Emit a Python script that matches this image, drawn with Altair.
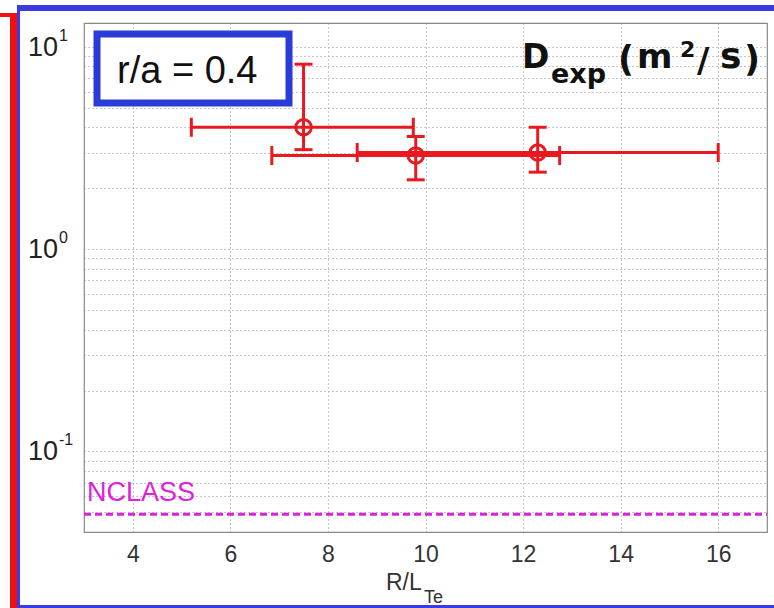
import altair as alt
import pandas as pd

# ---- data ----
x_center = [7.5, 9.8, 12.3]
y_center = [4.0, 2.9, 3.0]
x_low = [5.2, 6.85, 8.6]
x_high = [9.75, 12.75, 16.0]
y_low = [3.1, 2.2, 2.4]
y_high = [8.2, 3.6, 4.0]
nclass_level = [0.049]
nclass_label = ["NCLASS"]
x_ticks = [4, 6, 8, 10, 12, 14, 16]
y_grid = [0.04, 0.05, 0.06, 0.07, 0.08, 0.09,
          0.1, 0.2, 0.3, 0.4, 0.5, 0.6, 0.7, 0.8, 0.9,
          1, 2, 3, 4, 5, 6, 7, 8, 9, 10]
decade_values = [10, 1, 0.1]
decade_exps = ["1", "0", "-1"]

RED = "#e8191f"
BLUE = "#2b3bd8"
MAGENTA = "#dd22dd"
FONT = "Liberation Sans"

L, T = 84, 23          # plot-area offset inside the page
W, H = 683, 509         # plot area size


def px(a):
    return a - L


def py(a):
    return a - T


df = pd.DataFrame({"x": x_center, "y": y_center, "xlo": x_low, "xhi": x_high,
                   "ylo": y_low, "yhi": y_high})
ncl = pd.DataFrame({"y": nclass_level, "label": nclass_label})
dec = pd.DataFrame({"v": decade_values, "e": decade_exps})
one = alt.Data(values=[{"a": 1}])

xs = alt.Scale(domain=[3, 17], nice=False, zero=False)
ys = alt.Scale(type="log", domain=[0.04, 13.1], nice=False)

x_axis = alt.Axis(values=x_ticks, grid=True, gridDash=[1, 3], gridColor="#8f8f8f",
                  gridWidth=1, labelFontSize=23, labelFont=FONT, labelColor="#333333",
                  ticks=False, domain=False, title=None, labelPadding=11)
y_axis = alt.Axis(values=y_grid, grid=True, gridDash=[1, 3], gridColor="#8f8f8f",
                  gridWidth=1, labels=False, ticks=False, domain=False, title=None)

base = alt.Chart(df)

grid_layer = base.mark_point(opacity=0).encode(
    x=alt.X("x:Q", scale=xs, axis=x_axis),
    y=alt.Y("y:Q", scale=ys, axis=y_axis),
)

# r/a box
box = alt.Chart(one).mark_rect(fill="white", stroke=BLUE, strokeWidth=7).encode(
    x=alt.value(px(97)), x2=alt.value(px(289)), y=alt.value(py(34)), y2=alt.value(py(103)))
box_text = alt.Chart(one).mark_text(text="r/a = 0.4", font=FONT, fontSize=38, align="left",
                                    baseline="alphabetic", color="#111111").encode(
    x=alt.value(px(117)), y=alt.value(py(83)))

# NCLASS
ncl_line = alt.Chart(ncl).mark_rule(color=MAGENTA, strokeWidth=3, strokeDash=[7, 4]).encode(
    y=alt.Y("y:Q", scale=ys), x=alt.value(0), x2=alt.value(W))
ncl_text = alt.Chart(ncl).mark_text(font=FONT, fontSize=27, align="left", baseline="alphabetic",
                                    color=MAGENTA, dy=-13).encode(
    y=alt.Y("y:Q", scale=ys), x=alt.value(px(87)), text="label:N")

# error bars
hbar = base.mark_rule(color=RED, strokeWidth=3).encode(
    x=alt.X("xlo:Q", scale=xs), x2="xhi:Q", y=alt.Y("y:Q", scale=ys))
vbar = base.mark_rule(color=RED, strokeWidth=3).encode(
    x=alt.X("x:Q", scale=xs), y=alt.Y("ylo:Q", scale=ys), y2="yhi:Q")
cap_l = base.mark_tick(color=RED, orient="vertical", size=19, thickness=3, opacity=1).encode(
    x=alt.X("xlo:Q", scale=xs), y=alt.Y("y:Q", scale=ys))
cap_r = base.mark_tick(color=RED, orient="vertical", size=19, thickness=3, opacity=1).encode(
    x=alt.X("xhi:Q", scale=xs), y=alt.Y("y:Q", scale=ys))
cap_b = base.mark_tick(color=RED, orient="horizontal", size=18, thickness=3, opacity=1).encode(
    x=alt.X("x:Q", scale=xs), y=alt.Y("ylo:Q", scale=ys))
cap_t = base.mark_tick(color=RED, orient="horizontal", size=18, thickness=3, opacity=1).encode(
    x=alt.X("x:Q", scale=xs), y=alt.Y("yhi:Q", scale=ys))
pts = base.mark_point(shape="circle", filled=False, size=240, strokeWidth=3, color=RED,
                      opacity=1).encode(x=alt.X("x:Q", scale=xs), y=alt.Y("y:Q", scale=ys))

# y decade labels 10^n
dec_base = alt.Chart(dec).mark_text(font=FONT, fontSize=27, align="right", baseline="alphabetic",
                                    color="#222222", dy=9, text="10").encode(
    y=alt.Y("v:Q", scale=ys), x=alt.value(px(58)))
dec_exp = alt.Chart(dec).mark_text(font=FONT, fontSize=16, align="left", baseline="alphabetic",
                                   color="#222222", dy=-6).encode(
    y=alt.Y("v:Q", scale=ys), x=alt.value(px(59)), text="e:N")

# x title R/L_Te
xt1 = alt.Chart(one).mark_text(text="R/L", font=FONT, fontSize=23, align="left",
                               baseline="alphabetic", color="#333333").encode(
    x=alt.value(px(386)), y=alt.value(py(590)))
xt2 = alt.Chart(one).mark_text(text="Te", font=FONT, fontSize=18, align="left",
                               baseline="alphabetic", color="#333333").encode(
    x=alt.value(px(424)), y=alt.value(py(603)))

# D_exp (m^2/s), glyph by glyph: (text, left x, baseline y, font size)
BF = "DejaVu Sans"
title_pieces = [
    ("D", 522, 68, 33),
    ("exp", 551, 83, 27),
    ("(", 618, 71, 35),
    ("m", 637, 68, 34),
    ("2", 680, 57, 22),
    ("/", 697, 72, 34),
    ("s", 720, 68, 36),
    (")", 744, 71, 35),
]
title_layers = []
for txt, ax, ay, fs in title_pieces:
    title_layers.append(
        alt.Chart(one).mark_text(text=txt, font=BF, fontWeight="bold", fontSize=fs, align="left",
                                 baseline="alphabetic", color="#111111").encode(
            x=alt.value(px(ax)), y=alt.value(py(ay))))

# slide frame decorations
fr_red = alt.Chart(one).mark_rect(color="#f01010").encode(
    x=alt.value(px(10)), x2=alt.value(px(17)), y=alt.value(py(13)), y2=alt.value(py(608)))
fr_red_top = alt.Chart(one).mark_rect(color="#f01010").encode(
    x=alt.value(px(0)), x2=alt.value(px(17)), y=alt.value(py(13)), y2=alt.value(py(17)))
fr_blue_v = alt.Chart(one).mark_rect(color="#3a3ae6").encode(
    x=alt.value(px(17)), x2=alt.value(px(20)), y=alt.value(py(5)), y2=alt.value(py(608)))
fr_blue_t = alt.Chart(one).mark_rect(color="#3a3ae6").encode(
    x=alt.value(px(17)), x2=alt.value(px(774)), y=alt.value(py(5)), y2=alt.value(py(11)))
fr_blue_b = alt.Chart(one).mark_rect(color="#3a3ae6").encode(
    x=alt.value(px(17)), x2=alt.value(px(774)), y=alt.value(py(605)), y2=alt.value(py(608)))

chart = alt.layer(
    grid_layer, ncl_line, ncl_text, hbar, vbar, cap_l, cap_r, cap_b, cap_t, pts,
    box, box_text, *title_layers, dec_base, dec_exp, xt1, xt2,
    fr_red, fr_red_top, fr_blue_v, fr_blue_t, fr_blue_b,
).properties(
    width=W, height=H,
    autosize=alt.AutoSizeParams(type="none"),
    padding={"left": L, "top": T, "right": 774 - L - W, "bottom": 608 - T - H},
    background="white",
).configure_view(stroke="#888888", strokeWidth=1.2)

chart.save("out.html", embed_options={"renderer": "svg", "actions": False})
